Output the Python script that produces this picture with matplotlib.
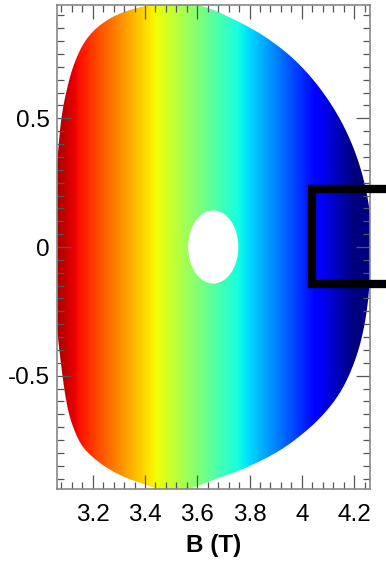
import numpy as np
import matplotlib
matplotlib.use("Agg")
import matplotlib.pyplot as plt
from matplotlib.patches import Polygon, Ellipse
from matplotlib.lines import Line2D
from matplotlib.ticker import MultipleLocator, FuncFormatter

plt.rcParams['font.family'] = ['Liberation Sans', 'DejaVu Sans']

# Plasma boundary in (B, Z) coordinates, counter-clockwise from the outer midplane
boundary_b = [4.266, 4.256, 4.219, 4.158, 4.074, 3.972, 3.854, 3.722, 3.62, 3.51,
              3.41, 3.30, 3.22, 3.165, 3.125, 3.098, 3.080, 3.068, 3.058, 3.045,
              3.058, 3.078, 3.100, 3.125, 3.163, 3.228, 3.305, 3.393, 3.49,
              3.58, 3.661, 3.791, 3.917, 4.020, 4.097, 4.155, 4.200, 4.232,
              4.252, 4.263]
boundary_z = [0.02, 0.165, 0.324, 0.474, 0.61, 0.727, 0.82, 0.893, 0.935, 0.952,
              0.938, 0.905, 0.855, 0.79, 0.70, 0.60, 0.50, 0.38, 0.25, 0.0,
              -0.256, -0.451, -0.606, -0.699, -0.777, -0.839, -0.886, -0.920, -0.948,
              -0.935, -0.905, -0.855, -0.789, -0.711, -0.633, -0.55, -0.45, -0.34,
              -0.22, -0.08]

# Colour scale range of B (T)
b_color_range = (3.02, 4.20)

# Central hole: centre and half-widths
hole_center = (3.661, 0.0)
hole_half = (0.096, 0.142)

# Highlighted box: left edge, bottom, top, right end (runs past the frame)
box_left, box_bottom, box_top, box_right = 4.039, -0.144, 0.225, 4.40

x_limits = (3.063, 4.261)
y_limits = (-0.94, 0.942)
x_ticks = [3.2, 3.4, 3.6, 3.8, 4.0, 4.2]
y_ticks = [-0.5, 0.0, 0.5]


def closed_catmull_rom(px, py, n_seg=20):
    """Smooth closed curve through the given vertices."""
    p = np.column_stack([px, py])
    n = len(p)
    t = np.linspace(0, 1, n_seg, endpoint=False)[:, None]
    out = []
    for i in range(n):
        p0, p1, p2, p3 = p[(i - 1) % n], p[i], p[(i + 1) % n], p[(i + 2) % n]
        out.append(0.5 * ((2 * p1) + (-p0 + p2) * t
                          + (2 * p0 - 5 * p1 + 4 * p2 - p3) * t ** 2
                          + (-p0 + 3 * p1 - 3 * p2 + p3) * t ** 3))
    return np.vstack(out)


W, H, DPI = 386, 561, 100
fig = plt.figure(figsize=(W / DPI, H / DPI), dpi=DPI)
ax = fig.add_axes([57 / W, 1 - 489 / H, (370 - 57) / W, (489 - 4.5) / H])

# Field map: B varies across the cross-section
bx = np.linspace(x_limits[0] - 0.05, x_limits[1] + 0.05, 600)
bz = np.linspace(y_limits[0] - 0.05, y_limits[1] + 0.05, 2)
field = np.tile(bx, (len(bz), 1))
img = ax.imshow(field, extent=[bx[0], bx[-1], bz[0], bz[-1]], origin='lower',
                cmap='jet_r', vmin=b_color_range[0], vmax=b_color_range[1],
                aspect='auto', interpolation='bilinear', zorder=1)
poly = Polygon(closed_catmull_rom(boundary_b, boundary_z), closed=True,
               facecolor='none', edgecolor='none', transform=ax.transData)
ax.add_patch(poly)
img.set_clip_path(poly)

ax.add_patch(Ellipse(hole_center, 2 * hole_half[0], 2 * hole_half[1],
                     facecolor='white', edgecolor='none', zorder=2))

ax.add_line(Line2D([box_right, box_left, box_left, box_right],
                   [box_top, box_top, box_bottom, box_bottom],
                   color='black', linewidth=6, solid_joinstyle='miter',
                   solid_capstyle='butt', clip_on=False, zorder=5))

ax.set_xlim(*x_limits)
ax.set_ylim(*y_limits)

ax.xaxis.set_minor_locator(MultipleLocator(0.04))
ax.yaxis.set_minor_locator(MultipleLocator(0.05))
ax.set_xticks(x_ticks)
ax.set_yticks(y_ticks)
ax.xaxis.set_major_formatter(FuncFormatter(lambda v, p: f"{v:g}"))
ax.yaxis.set_major_formatter(FuncFormatter(lambda v, p: f"{v:g}"))

ax.tick_params(which='both', direction='in', top=True, right=True,
               color='#555555', width=0.9, labelsize=17.5)
ax.tick_params(which='major', length=10)
ax.tick_params(which='minor', length=4.8)
ax.tick_params(axis='x', which='major', pad=10.5)
ax.tick_params(axis='y', which='major', pad=5)

for s in ax.spines.values():
    s.set_color('#888888')
    s.set_linewidth(1.2)
    s.set_zorder(4)

ax.set_xlabel('B (T)', fontsize=17.5, fontweight='bold', labelpad=6)

fig.savefig('out.png', dpi=DPI)
